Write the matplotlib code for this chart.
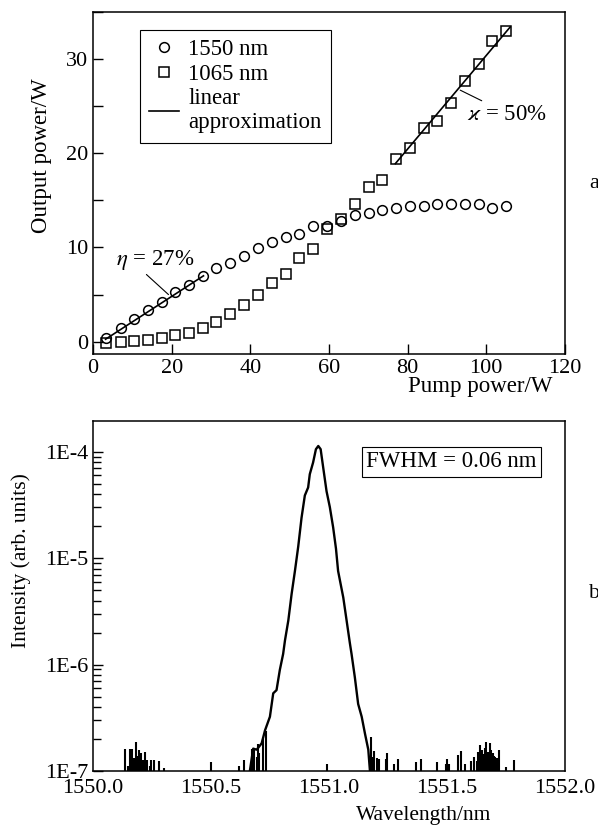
import math

import matplotlib
matplotlib.use("Agg")
from matplotlib import pyplot as plt
from matplotlib.ticker import MultipleLocator, LogLocator, FuncFormatter, NullFormatter

plt.rcParams['font.family'] = ['Liberation Serif', 'DejaVu Serif']
plt.rcParams['mathtext.fontset'] = 'stix'
plt.rcParams['font.size'] = 16

# --- panel a: output power vs pump power ---
pump = [3.2, 7.0, 10.5, 14.0, 17.6, 20.9, 24.4, 28.1, 31.4, 34.9,
        38.5, 41.9, 45.5, 49.0, 52.5, 55.9, 59.5, 63.0, 66.6, 70.1,
        73.6, 77.1, 80.7, 84.2, 87.6, 91.0, 94.5, 98.3, 101.6, 105.1]
out_1550 = [0.4, 1.5, 2.4, 3.4, 4.2, 5.3, 6.0, 7.0, 7.8, 8.3,
            9.1, 9.9, 10.6, 11.1, 11.45, 12.3, 12.3, 12.8, 13.4, 13.7,
            14.0, 14.2, 14.35, 14.35, 14.6, 14.6, 14.6, 14.6, 14.2, 14.45]
out_1065 = [-0.14, -0.03, 0.03, 0.18, 0.39, 0.67, 0.88, 1.45, 2.1, 2.9,
            3.9, 4.95, 6.2, 7.2, 8.9, 9.8, 11.95, 13.0, 14.6, 16.4,
            17.2, 19.4, 20.6, 22.7, 23.4, 25.3, 27.7, 29.5, 31.9, 33.0]
fit_1550_x = [3.2, 28.1]
fit_1550_y = [0.26, 6.99]
fit_1065_x = [76.9, 106.1]
fit_1065_y = [18.9, 33.4]

# --- panel b: spectrum ---
peak_wl = [1550.665, 1550.679, 1550.694, 1550.715, 1550.729, 1550.750, 1550.764,
           1550.778, 1550.792, 1550.806, 1550.814, 1550.828, 1550.842, 1550.856,
           1550.870, 1550.884, 1550.898, 1550.912, 1550.919, 1550.933, 1550.945,
           1550.955, 1550.965, 1550.976, 1550.990, 1551.004, 1551.018, 1551.030,
           1551.039, 1551.061, 1551.075, 1551.089, 1551.096, 1551.110, 1551.124,
           1551.139, 1551.153, 1551.167, 1551.174]
peak_log = [-7.0, -6.79, -6.80, -6.74, -6.62, -6.49, -6.27,
            -6.24, -6.05, -5.90, -5.77, -5.585, -5.335, -5.12,
            -4.89, -4.62, -4.41, -4.335, -4.21, -4.10, -3.975,
            -3.945, -3.975, -4.15, -4.37, -4.52, -4.71, -4.91,
            -5.12, -5.37, -5.585, -5.80, -5.90, -6.12, -6.37,
            -6.49, -6.65, -6.80, -7.0]
spike_wl = [1550.134, 1550.150, 1550.158, 1550.163, 1550.167, 1550.174, 1550.181,
            1550.188, 1550.195, 1550.200, 1550.205, 1550.212, 1550.219, 1550.224,
            1550.229, 1550.240, 1550.247, 1550.258, 1550.280, 1550.301, 1550.501,
            1550.620, 1550.640, 1550.672, 1550.682, 1550.694, 1550.700, 1550.705,
            1550.720, 1550.735, 1550.994,
            1551.177, 1551.181, 1551.191, 1551.202, 1551.213, 1551.242, 1551.247,
            1551.275, 1551.291, 1551.369, 1551.390, 1551.459, 1551.496, 1551.501,
            1551.510, 1551.548, 1551.558, 1551.576, 1551.602, 1551.614, 1551.626,
            1551.634, 1551.640, 1551.646, 1551.651, 1551.657, 1551.662, 1551.668,
            1551.675, 1551.682, 1551.688, 1551.694, 1551.699, 1551.703, 1551.712,
            1551.722, 1551.750, 1551.784]
spike_log = [-6.79, -6.95, -6.79, -6.85, -6.79, -6.88, -6.725,
             -6.86, -6.80, -6.88, -6.83, -6.90, -6.82, -6.92,
             -6.90, -6.95, -6.90, -6.90, -6.91, -6.975, -6.92,
             -6.95, -6.90, -6.79, -6.80, -6.87, -6.75, -6.83,
             -6.70, -6.62, -6.93,
             -6.68, -6.87, -6.81, -6.88, -6.89, -6.89, -6.83,
             -6.93, -6.89, -6.92, -6.89, -6.92, -6.93, -6.89,
             -6.93, -6.85, -6.81, -6.93, -6.91, -6.87, -6.91,
             -6.82, -6.76, -6.85, -6.80, -6.84, -6.78, -6.725,
             -6.82, -6.74, -6.80, -6.83, -6.86, -6.87, -6.88,
             -6.80, -6.96, -6.90]

floor = 1e-7

fig = plt.figure(figsize=(5.98, 8.25), dpi=100)

# panel a
ax1 = fig.add_axes([0.1555, 0.571, 0.789, 0.4145])
ax1.plot(pump, out_1550, 'o', mfc='none', mec='black', ms=7, mew=1.1, label='1550 nm')
ax1.plot(pump, out_1065, 's', mfc='none', mec='black', ms=6.5, mew=1.1, label='1065 nm')
ax1.plot(fit_1550_x, fit_1550_y, '-', color='black', lw=1.2, label='linear\napproximation')
ax1.plot(fit_1065_x, fit_1065_y, '-', color='black', lw=1.2)
ax1.set_xlim(0, 120)
ax1.set_ylim(-1.3, 35)
ax1.xaxis.set_major_locator(MultipleLocator(20))
ax1.yaxis.set_major_locator(MultipleLocator(10))
ax1.yaxis.set_minor_locator(MultipleLocator(5))
ax1.tick_params(direction='in', length=7, width=1.0, labelsize=16)
ax1.tick_params(which='minor', direction='in', length=7, width=1.0)
ax1.set_xlabel('Pump power/W', fontsize=16.5)
ax1.xaxis.label.set_va('center')
ax1.xaxis.set_label_coords(0.82, -0.096)
ax1.set_ylabel('Output power/W', fontsize=16.5)
ax1.yaxis.label.set_va('center')
ax1.yaxis.set_label_coords(-0.11, 0.58)
leg = ax1.legend(loc='upper left', bbox_to_anchor=(0.0996, 0.947), borderaxespad=0,
                 fancybox=False, edgecolor='black', framealpha=1, fontsize=16.5,
                 handlelength=1.3, handletextpad=0.4, labelspacing=0.15,
                 borderpad=0.4)
leg.get_frame().set_linewidth(0.8)
ax1.annotate('$\\eta$ = 27%', xy=(19.2, 5.0), xytext=(15.8, 8.7),
             ha='center', va='center', fontsize=16.5,
             arrowprops=dict(arrowstyle='-', lw=0.8, color='black',
                             shrinkA=0, shrinkB=0, relpos=(0.35, 0.0)))
ax1.annotate('$\\varkappa$ = 50%', xy=(93.4, 26.7), xytext=(105.3, 24.1),
             ha='center', va='center', fontsize=16.5,
             arrowprops=dict(arrowstyle='-', lw=0.8, color='black',
                             shrinkA=1, shrinkB=0, relpos=(0.27, 1.0)))

# panel b
ax2 = fig.add_axes([0.1555, 0.0655, 0.789, 0.4242])
peak_val = [10 ** v for v in peak_log]
spike_val = [10 ** v for v in spike_log]
ax2.plot(peak_wl, peak_val, '-', color='black', lw=1.7)
ax2.vlines(spike_wl, floor, spike_val, color='black', lw=1.5)
ax2.set_yscale('log')
ax2.set_xlim(1550.0, 1552.0)
ax2.set_ylim(floor, 1.95e-4)
ax2.xaxis.set_major_locator(MultipleLocator(0.5))
ax2.xaxis.set_major_formatter(FuncFormatter(lambda v, p: '%.1f' % v))
ax2.yaxis.set_major_locator(LogLocator(base=10))
ax2.yaxis.set_minor_locator(LogLocator(base=10, subs=range(2, 10)))
ax2.yaxis.set_major_formatter(FuncFormatter(lambda v, p: '1E%d' % round(math.log10(v))))
ax2.yaxis.set_minor_formatter(NullFormatter())
ax2.tick_params(direction='in', length=7, width=1.0, labelsize=16)
ax2.tick_params(axis='x', length=0, pad=6)
ax2.tick_params(which='minor', direction='in', length=6, width=1.0)
ax2.set_xlabel('Wavelength/nm', fontsize=15.5)
ax2.xaxis.label.set_va('center')
ax2.xaxis.set_label_coords(0.70, -0.126)
ax2.set_ylabel('Intensity (arb. units)', fontsize=15.5)
ax2.yaxis.label.set_va('center')
ax2.yaxis.set_label_coords(-0.153, 0.60)
ax2.text(0.76, 0.883, 'FWHM = 0.06 nm', transform=ax2.transAxes, ha='center', va='center',
         fontsize=16.5, bbox=dict(boxstyle='square,pad=0.2', fc='white', ec='black', lw=0.8))

for ax in (ax1, ax2):
    for s in ax.spines.values():
        s.set_linewidth(1.1)

fig.text(589 / 598, 1 - 183 / 825, 'a', ha='left', va='center', fontsize=16)
fig.text(589 / 598, 1 - 593 / 825, 'b', ha='left', va='center', fontsize=16)

fig.savefig('out.png', dpi=100)
